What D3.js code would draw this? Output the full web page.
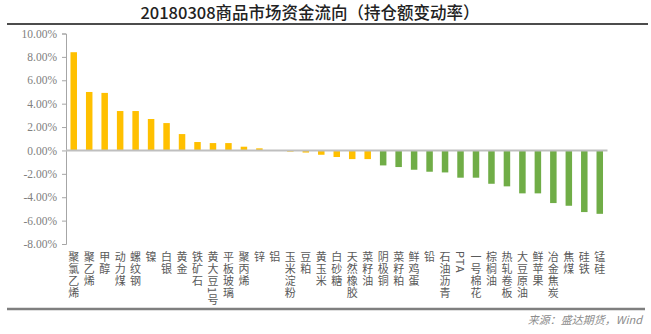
<!DOCTYPE html>
<html><head><meta charset="utf-8">
<script src="https://cdn.jsdelivr.net/npm/d3@7"></script>
<style>
html,body{margin:0;padding:0;background:#fff;}
svg{display:block;}
.vlab{writing-mode:vertical-rl;text-orientation:mixed;}
</style>
</head><body>
<svg id="chart" width="651" height="334"></svg>
<script>
const titleText = "20180308商品市场资金流向（持仓额变动率）";
const sourceText = "来源：盛达期货，Wind";
const categories = ["聚氯乙烯","聚乙烯","甲醇","动力煤","螺纹钢","镍","白银","黄金","铁矿石","黄大豆1号","平板玻璃","聚丙烯","锌","铝","玉米淀粉","豆粕","黄玉米","白砂糖","天然橡胶","菜籽油","阴极铜","菜籽粕","鲜鸡蛋","铅","石油沥青","PTA","一号棉花","棕榈油","热轧卷板","大豆原油","鲜苹果","冶金焦炭","焦煤","硅铁","锰硅"];
const seriesYellow = [8.40, 5.00, 4.92, 3.37, 3.37, 2.69, 2.34, 1.40, 0.72, 0.63, 0.63, 0.32, 0.18, 0.01, -0.10, -0.18, -0.37, -0.56, -0.74, -0.74];
const seriesGreen = [-1.28, -1.42, -1.65, -1.82, -1.88, -2.33, -2.33, -2.85, -3.07, -3.67, -3.67, -4.50, -4.73, -5.27, -5.42];
const yTicks = [-8, -6, -4, -2, 0, 2, 4, 6, 8, 10];

const svg = d3.select("#chart");

const bars = categories.map((c, i) => ({
  cat: c,
  value: i < seriesYellow.length ? seriesYellow[i] : seriesGreen[i - seriesYellow.length],
  series: i < seriesYellow.length ? "yellow" : "green"
}));
const colors = {yellow: "#ffc000", green: "#70ad47"};

const x = d3.scaleBand().domain(categories).range([66, 607.5]).paddingInner(0.58).paddingOuter(0.29);
const y = d3.scaleLinear().domain([-8, 10]).range([244, 33.5]);

// title
svg.append("text").attr("x", 310).attr("y", 18.5).attr("text-anchor", "middle")
  .attr("font-family", "'Noto Sans CJK SC', sans-serif").attr("font-size", 16.5)
  .attr("font-weight", 500).attr("fill", "#222").text(titleText);
svg.append("line").attr("x1", 7).attr("x2", 648).attr("y1", 24).attr("y2", 24)
  .attr("stroke", "#111").attr("stroke-width", 1.5);

// y axis
const yAxis = d3.axisLeft(y).tickValues(yTicks).tickSize(4).tickPadding(5)
  .tickFormat(d => d.toFixed(2) + "%");
const gy = svg.append("g").attr("transform", "translate(66,0)").call(yAxis);
gy.select(".domain").attr("stroke", "#a6a6a6");
gy.selectAll(".tick line").attr("stroke", "#a6a6a6");
gy.selectAll(".tick text").attr("fill", "#808080")
  .attr("font-family", "'Liberation Serif', serif").attr("font-size", 11.5);

// bars
svg.append("g").selectAll("rect").data(bars).join("rect")
  .attr("x", d => x(d.cat))
  .attr("width", x.bandwidth())
  .attr("y", d => Math.min(y(0), y(d.value)))
  .attr("height", d => Math.abs(y(d.value) - y(0)))
  .attr("fill", d => colors[d.series]);

// zero line
svg.append("line").attr("x1", 66).attr("x2", 607.5).attr("y1", y(0)).attr("y2", y(0))
  .attr("stroke", "#bfbfbf").attr("stroke-width", 2);

// category labels (vertical text)
svg.append("g").selectAll("text").data(categories).join("text")
  .attr("class", "vlab")
  .attr("x", d => x(d) + x.bandwidth() / 2)
  .attr("y", 251)
  .attr("font-family", "'Noto Sans CJK SC', sans-serif")
  .attr("font-size", 11)
  .attr("letter-spacing", 1)
  .attr("fill", "#595959")
  .text(d => d);

// bottom line and source
svg.append("line").attr("x1", 7).attr("x2", 645).attr("y1", 309).attr("y2", 309)
  .attr("stroke", "#7f7f7f").attr("stroke-width", 2.5);
svg.append("text").attr("x", 642).attr("y", 324).attr("text-anchor", "end")
  .attr("font-family", "'Noto Sans CJK SC', sans-serif").attr("font-size", 11)
  .attr("font-style", "italic").attr("fill", "#8c8c8c").text(sourceText);
</script>
</body></html>
